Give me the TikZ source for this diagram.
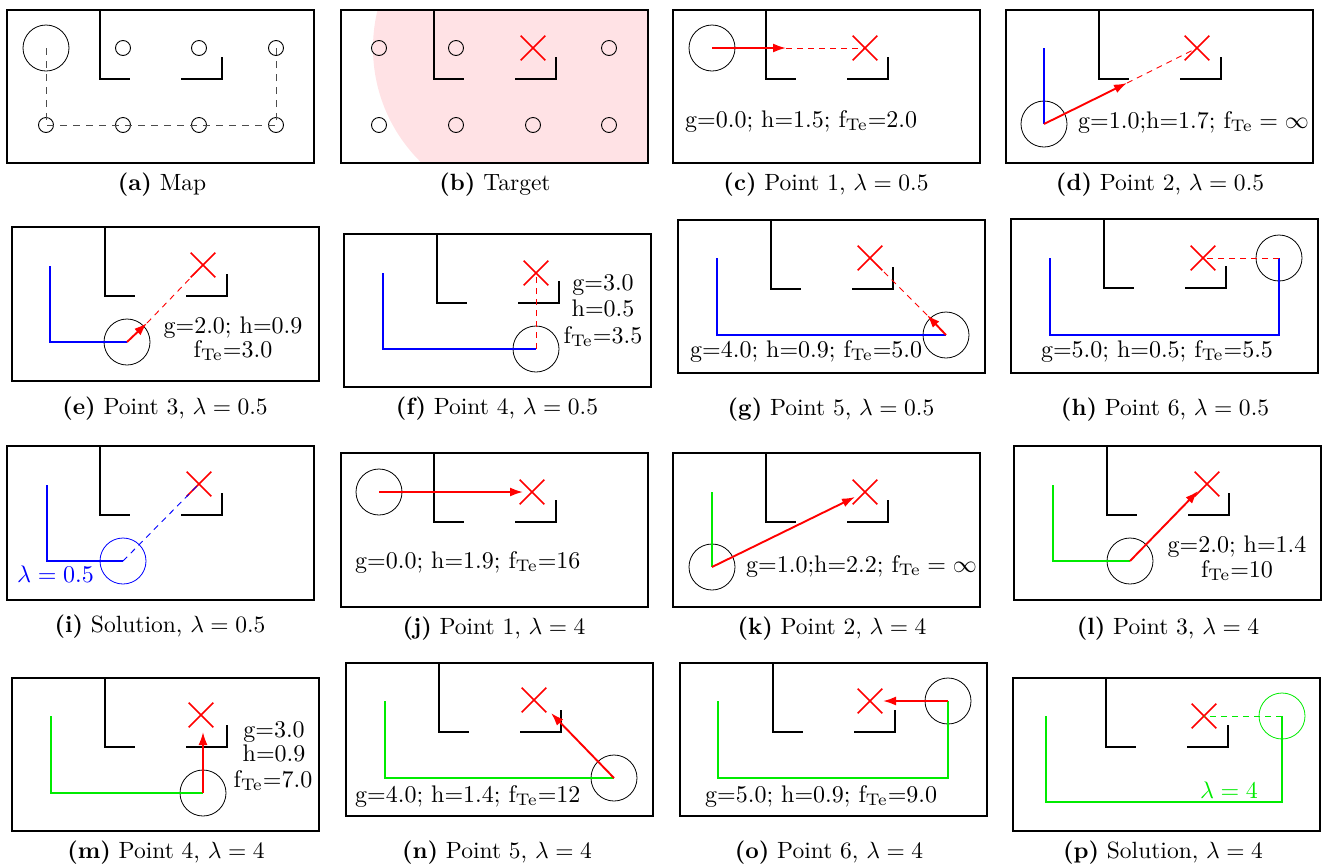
\documentclass[tikz,border=0pt]{standalone}
\usetikzlibrary{arrows.meta,shapes.misc}
\definecolor{pinkbg}{RGB}{255,226,229}
\definecolor{pgreen}{RGB}{0,235,0}
\newcommand{\capt}[1]{\scalebox{2.35}{#1}}
\newcommand{\lbl}[1]{\scalebox{2.4}{#1}}
\tikzset{
 boxline/.style={line width=2pt},
 wall/.style={line width=2pt},
 robot/.style={circle,draw,line width=0.8pt,minimum size=46pt,inner sep=0pt},
 dot/.style={circle,draw,line width=0.9pt,minimum size=15pt,inner sep=0pt},
 target/.style={cross out,draw=red,line width=1.7pt,minimum size=23pt,inner sep=0pt},
 redarrow/.style={red,line width=1.9pt,-{Latex[length=13pt,width=9pt]}},
 reddash/.style={red,line width=0.9pt,dash pattern=on 6pt off 5pt},
 graydash/.style={black!70,line width=0.9pt,dash pattern=on 7pt off 6pt},
 bluepath/.style={blue,line width=2pt},
 greenpath/.style={pgreen,line width=2pt},
 bluedash/.style={blue,line width=0.9pt,dash pattern=on 6pt off 5pt},
 greendash/.style={pgreen,line width=0.9pt,dash pattern=on 6pt off 5pt},
 captext/.style={inner sep=0pt},
 txt/.style={inner sep=0pt},
 pics/mapframe/.style={code={
   \draw[boxline] (0,0) rectangle (307,#1);
   \draw[wall] (93,0) |- (123,69);
   \draw[wall] (174,69) -| (215,47);
 }},
}
\begin{document}
\begin{tikzpicture}[x=1pt,y=-1pt]
\useasboundingbox (0,0) rectangle (1322,863);
% ---------- (a)
\begin{scope}[shift={(7,10)}]
 \pic {mapframe=153};
 \node[robot] (ra) at (39,38) {};
 \node[dot] (a1) at (116,38) {};
 \node[dot] (a2) at (192,38) {};
 \node[dot] (a3) at (269,38) {};
 \node[dot] (a4) at (39,115) {};
 \node[dot] (a5) at (116,115) {};
 \node[dot] (a6) at (192,115) {};
 \node[dot] (a7) at (269,115) {};
 \draw[graydash] (ra.center) -- (a4.center) -- (a7.center) -- (a3.center);
 \node[captext] (capa) at (155,175) {\capt{\textbf{(a)} Map}};
\end{scope}
% ---------- (b)
\begin{scope}[shift={(341,10)}]
 \coordinate (xbc) at (192,38);
 \begin{scope}
  \clip (0,0) rectangle (307,153);
  \fill[pinkbg] (xbc) circle[radius=160pt];
 \end{scope}
 \pic {mapframe=153};
 \node[dot] (b1) at (38,38) {};
 \node[dot] (b2) at (115,38) {};
 \node[dot] (b3) at (268,38) {};
 \node[dot] (b4) at (38,115) {};
 \node[dot] (b5) at (115,115) {};
 \node[dot] (b6) at (192,115) {};
 \node[dot] (b7) at (268,115) {};
 \node[target] (xb) at (xbc) {};
 \node[captext] (capb) at (154,175) {\capt{\textbf{(b)} Target}};
\end{scope}
% ---------- (c)
\begin{scope}[shift={(673,10)}]
 \pic {mapframe=153};
 \node[robot] (rc) at (39,38) {};
 \node[target] (xc) at (192,38) {};
 \coordinate (tc) at (113,38);
 \draw[reddash] (tc) -- (xc.center);
 \draw[redarrow] (rc.center) -- (tc);
 \node[txt,anchor=base west] (lc) at (12,117) {\lbl{g=0.0; h=1.5; f$_{\rm Te}$=2.0}};
 \node[captext] (capc) at (153,175) {\capt{\textbf{(c)} Point 1, $\lambda=0.5$}};
\end{scope}
% ---------- (d)
\begin{scope}[shift={(1006,10)}]
 \pic {mapframe=153};
 \node[robot] (rd) at (38,114) {};
 \node[target] (xd) at (191,38) {};
 \coordinate (sd) at (38,38);
 \draw[bluepath] (sd) -- (rd.center);
 \coordinate (td) at (121,73);
 \draw[reddash] (td) -- (xd.center);
 \draw[redarrow] (rd.center) -- (td);
 \node[txt,anchor=base west] (ld) at (72,118) {\lbl{g=1.0;h=1.7; f$_{\rm Te}=\infty$}};
 \node[captext] (capd) at (154,175) {\capt{\textbf{(d)} Point 2, $\lambda=0.5$}};
\end{scope}
% ---------- (e)
\begin{scope}[shift={(12,227)}]
 \pic {mapframe=154};
 \node[robot] (re) at (115,115) {};
 \node[target] (xe) at (191,38) {};
 \coordinate (se) at (38,39);
 \draw[bluepath] (se) |- (re.center);
 \coordinate (te) at (135,96);
 \draw[reddash] (te) -- (xe.center);
 \draw[redarrow] (re.center) -- (te);
 \node[txt,anchor=base] (le1) at (221,106) {\lbl{g=2.0; h=0.9}};
 \node[txt,anchor=base] (le2) at (221,130) {\lbl{f$_{\rm Te}$=3.0}};
 \node[captext] (cape) at (153,182) {\capt{\textbf{(e)} Point 3, $\lambda=0.5$}};
\end{scope}
% ---------- (f)
\begin{scope}[shift={(344,234)}]
 \pic {mapframe=153};
 \node[robot] (rf) at (192,115) {};
 \node[target] (xf) at (192,39) {};
 \coordinate (sf) at (39,39);
 \draw[bluepath] (sf) |- (rf.center);
 \draw[reddash] (rf.center) -- (xf.center);
 \node[txt,anchor=base] (lf1) at (259,56) {\lbl{g=3.0}};
 \node[txt,anchor=base] (lf2) at (259,82) {\lbl{h=0.5}};
 \node[txt,anchor=base] (lf3) at (259,109) {\lbl{f$_{\rm Te}$=3.5}};
 \node[captext] (capf) at (153,175) {\capt{\textbf{(f)} Point 4, $\lambda=0.5$}};
\end{scope}
% ---------- (g)
\begin{scope}[shift={(678,220)}]
 \pic {mapframe=153};
 \node[robot] (rg) at (268,115) {};
 \node[target] (xg) at (192,38) {};
 \coordinate (sg) at (39,38);
 \draw[bluepath] (sg) |- (rg.center);
 \coordinate (tg) at (249,95);
 \draw[reddash] (tg) -- (xg.center);
 \draw[redarrow] (rg.center) -- (tg);
 \node[txt,anchor=base west] (lg) at (12,137) {\lbl{g=4.0; h=0.9; f$_{\rm Te}$=5.0}};
 \node[captext] (capg) at (153,190) {\capt{\textbf{(g)} Point 5, $\lambda=0.5$}};
\end{scope}
% ---------- (h)
\begin{scope}[shift={(1011,219)}]
 \pic {mapframe=154};
 \node[robot] (rh) at (268,39) {};
 \node[target] (xh) at (192,39) {};
 \coordinate (sh) at (39,39);
 \coordinate (ch) at (39,116);
 \coordinate (dh) at (268,116);
 \draw[bluepath] (sh) -- (ch) -- (dh) -- (rh.center);
 \draw[reddash] (rh.center) -- (xh.center);
 \node[txt,anchor=base] (lh) at (146,138) {\lbl{g=5.0; h=0.5; f$_{\rm Te}$=5.5}};
 \node[captext] (caph) at (154,191) {\capt{\textbf{(h)} Point 6, $\lambda=0.5$}};
\end{scope}
% ---------- (i)
\begin{scope}[shift={(7,446)}]
 \pic {mapframe=154};
 \node[robot,draw=blue] (ri) at (116,115) {};
 \node[target] (xi) at (192,38) {};
 \coordinate (si) at (40,39);
 \draw[bluepath] (si) |- (ri.center);
 \draw[bluedash] (ri.center) -- (xi.center);
 \node[txt,anchor=base west,text=blue] (li) at (10,136) {\lbl{$\lambda=0.5$}};
 \node[captext] (capi) at (153,181) {\capt{\textbf{(i)} Solution, $\lambda=0.5$}};
\end{scope}
% ---------- (j)
\begin{scope}[shift={(341,453)}]
 \pic {mapframe=154};
 \node[robot] (rj) at (38,39) {};
 \node[target] (xj) at (191,39) {};
 \coordinate (tj) at (182,39);
 \draw[redarrow] (rj.center) -- (tj);
 \node[txt,anchor=base west] (lj) at (14,115) {\lbl{g=0.0; h=1.9; f$_{\rm Te}$=16}};
 \node[captext] (capj) at (153,176) {\capt{\textbf{(j)} Point 1, $\lambda=4$}};
\end{scope}
% ---------- (k)
\begin{scope}[shift={(673,453)}]
 \pic {mapframe=154};
 \node[robot] (rk) at (39,114) {};
 \node[target] (xk) at (192,39) {};
 \coordinate (sk) at (39,39);
 \draw[greenpath] (sk) -- (rk.center);
 \coordinate (tk) at (182,44);
 \draw[redarrow] (rk.center) -- (tk);
 \node[txt,anchor=base west] (lk) at (73,119) {\lbl{g=1.0;h=2.2; f$_{\rm Te}=\infty$}};
 \node[captext] (capk) at (159,176) {\capt{\textbf{(k)} Point 2, $\lambda=4$}};
\end{scope}
% ---------- (l)
\begin{scope}[shift={(1014,446)}]
 \pic {mapframe=154};
 \node[robot] (rl) at (116,115) {};
 \node[target] (xl) at (193,38) {};
 \coordinate (sl) at (39,39);
 \draw[greenpath] (sl) |- (rl.center);
 \coordinate (tl) at (184,45);
 \draw[redarrow] (rl.center) -- (tl);
 \node[txt,anchor=base] (ll1) at (223,106) {\lbl{g=2.0; h=1.4}};
 \node[txt,anchor=base] (ll2) at (223,131) {\lbl{f$_{\rm Te}$=10}};
 \node[captext] (capl) at (154,183) {\capt{\textbf{(l)} Point 3, $\lambda=4$}};
\end{scope}
% ---------- (m)
\begin{scope}[shift={(12,678)}]
 \pic {mapframe=153};
 \node[robot] (rm) at (191,115) {};
 \node[target] (xm) at (189,37) {};
 \coordinate (sm) at (39,38);
 \draw[greenpath] (sm) |- (rm.center);
 \coordinate (tm) at (191,54);
 \draw[redarrow] (rm.center) -- (tm);
 \node[txt,anchor=base] (lm1) at (262,59) {\lbl{g=3.0}};
 \node[txt,anchor=base] (lm2) at (262,83) {\lbl{h=0.9}};
 \node[txt,anchor=base] (lm3) at (261,109) {\lbl{f$_{\rm Te}$=7.0}};
 \node[captext] (capm) at (154,175) {\capt{\textbf{(m)} Point 4, $\lambda=4$}};
\end{scope}
% ---------- (n)
\begin{scope}[shift={(346,663)}]
 \pic {mapframe=153};
 \node[robot] (rn) at (268,115) {};
 \node[target] (xn) at (188,37) {};
 \coordinate (sn) at (39,38);
 \draw[greenpath] (sn) |- (rn.center);
 \coordinate (tn) at (205,50);
 \draw[redarrow] (rn.center) -- (tn);
 \node[txt,anchor=base west] (ln) at (9,139) {\lbl{g=4.0; h=1.4; f$_{\rm Te}$=12}};
 \node[captext] (capn) at (151,190) {\capt{\textbf{(n)} Point 5, $\lambda=4$}};
\end{scope}
% ---------- (o)
\begin{scope}[shift={(680,663)}]
 \pic {mapframe=153};
 \node[robot] (ro) at (268,38) {};
 \node[target] (xo) at (190,38) {};
 \coordinate (so) at (38,38);
 \coordinate (co) at (38,115);
 \coordinate (do) at (268,115);
 \draw[greenpath] (so) -- (co) -- (do) -- (ro.center);
 \coordinate (to) at (203,38);
 \draw[redarrow] (ro.center) -- (to);
 \node[txt,anchor=base west] (lo) at (25,139) {\lbl{g=5.0; h=0.9; f$_{\rm Te}$=9.0}};
 \node[captext] (capo) at (149,190) {\capt{\textbf{(o)} Point 6, $\lambda=4$}};
\end{scope}
% ---------- (p)
\begin{scope}[shift={(1013,678)}]
 \pic {mapframe=153};
 \node[robot,draw=pgreen] (rp) at (269,38) {};
 \node[target] (xp) at (191,38) {};
 \coordinate (sp) at (33,38);
 \coordinate (cp) at (33,124);
 \coordinate (dp) at (269,124);
 \draw[greenpath] (sp) -- (cp) -- (dp) -- (rp.center);
 \draw[greendash] (rp.center) -- (xp.center);
 \node[txt,anchor=base,text=pgreen] (lp) at (216,120) {\lbl{$\lambda=4$}};
 \node[captext] (capp) at (150,175) {\capt{\textbf{(p)} Solution, $\lambda=4$}};
\end{scope}
\end{tikzpicture}
\end{document}
